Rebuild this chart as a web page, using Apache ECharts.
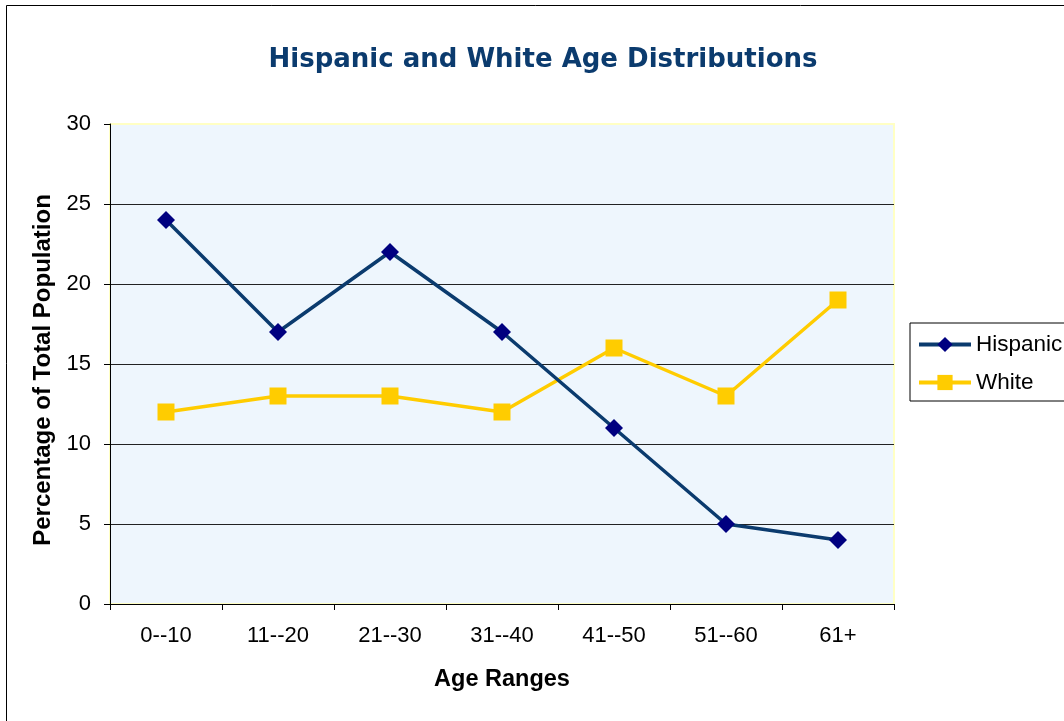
<!DOCTYPE html>
<html>
<head>
<meta charset="utf-8">
<script src="https://cdn.jsdelivr.net/npm/echarts@6/dist/echarts.min.js"></script>
<style>
  html, body { margin: 0; padding: 0; background: #fff; }
  #main { width: 1064px; height: 721px; }
</style>
</head>
<body>
<div id="main"></div>
<script>
// data
var categories = ['0--10', '11--20', '21--30', '31--40', '41--50', '51--60', '61+'];
var hispanic = [24, 17, 22, 17, 11, 5, 4];
var white = [12, 13, 13, 12, 16, 13, 19];
var seriesNames = ['Hispanic', 'White'];

var myChart = echarts.init(document.getElementById('main'));

var fontArial = 'Liberation Sans, Arial, sans-serif';
var labelFont = { fontFamily: fontArial, fontSize: 22, color: '#000' };

var option = {
    backgroundColor: '#fff',
    animation: false,
    graphic: [
        {
            type: 'rect',
            shape: { x: 6.5, y: 5.5, width: 1200, height: 900 },
            style: { fill: null, stroke: '#000', lineWidth: 1 },
            silent: true
        }
    ],
    title: {
        text: 'Hispanic and White Age Distributions',
        left: 538,
        textAlign: 'center',
        top: 42,
        textStyle: {
            fontFamily: 'DejaVu Sans, Verdana, sans-serif',
            fontSize: 26,
            fontWeight: 'bold',
            color: '#0B3B6E'
        }
    },
    legend: {
        orient: 'vertical',
        left: 910,
        top: 323,
        padding: [10, 30, 7, 7],
        itemWidth: 52,
        itemHeight: 19,
        itemGap: 15,
        borderColor: '#000',
        borderWidth: 1,
        lineStyle: { width: 4 },
        textStyle: { fontFamily: fontArial, fontSize: 22.5, color: '#000' },
        data: seriesNames
    },
    grid: {
        left: 110,
        top: 124,
        width: 784,
        height: 480,
        show: true,
        backgroundColor: '#EEF6FD',
        borderColor: '#FFFFC4',
        borderWidth: 2
    },
    xAxis: {
        type: 'category',
        data: categories,
        boundaryGap: true,
        name: 'Age Ranges',
        nameLocation: 'middle',
        nameGap: 64,
        nameTextStyle: {
            fontFamily: fontArial,
            fontSize: 23.5,
            fontWeight: 'bold',
            color: '#000'
        },
        axisLine: { lineStyle: { color: '#000', width: 1 } },
        axisTick: { show: true, length: 6, lineStyle: { color: '#000' } },
        axisLabel: Object.assign({ margin: 21 }, labelFont),
        splitLine: { show: false }
    },
    yAxis: {
        type: 'value',
        min: 0,
        max: 30,
        interval: 5,
        name: 'Percentage of Total Population',
        nameLocation: 'middle',
        nameGap: 51,
        nameTextStyle: {
            fontFamily: fontArial,
            fontSize: 24,
            fontWeight: 'bold',
            color: '#000',
            padding: [0, 12, 0, 0]
        },
        axisLine: { show: true, lineStyle: { color: '#000', width: 1 } },
        axisTick: { show: true, length: 6, lineStyle: { color: '#000' } },
        axisLabel: Object.assign({ margin: 19 }, labelFont),
        splitLine: {
            show: true,
            showMaxLine: false,
            lineStyle: { color: '#222', width: 1 }
        }
    },
    series: [
        {
            name: seriesNames[0],
            type: 'line',
            data: hispanic,
            symbol: 'diamond',
            symbolSize: 18,
            itemStyle: { color: '#000080' },
            lineStyle: { color: '#0B3B6E', width: 3.5 },
            z: 3
        },
        {
            name: seriesNames[1],
            type: 'line',
            data: white,
            symbol: 'rect',
            symbolSize: 17,
            itemStyle: { color: '#FFCC00' },
            lineStyle: { color: '#FFCC00', width: 3.5 },
            z: 2
        }
    ]
};

myChart.setOption(option);
</script>
</body>
</html>
